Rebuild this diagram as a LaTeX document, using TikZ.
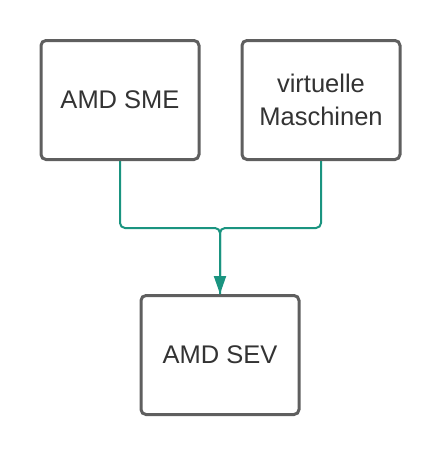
\documentclass[tikz,border=0pt]{standalone}
\usepackage{fontspec}
\setmainfont{Liberation Sans}
\usetikzlibrary{arrows.meta}
\usetikzlibrary{positioning}

\definecolor{boxgray}{HTML}{5F5F5F}
\definecolor{textgray}{HTML}{333333}
\definecolor{linkteal}{HTML}{1A9480}

\begin{document}
\begin{tikzpicture}[x=1pt,y=-1pt,node distance=40pt,
  box node/.style={draw=boxgray,line width=3pt,rounded corners=5pt,fill=white,
    minimum width=158pt,minimum height=119pt,align=center,text=textgray,
    font=\fontsize{25.5}{33}\selectfont},
  link/.style={draw=linkteal,line width=2pt,rounded corners=5pt}]

  \useasboundingbox (0,0) rectangle (440,455);

  \node[box node] (sme) at (120,100) {AMD SME};
  \node[box node] (vm) [right=of sme] {virtuelle\\Maschinen};
  \node[box node] (sev) at (220,355) {AMD SEV};
  \coordinate (join) at (220,228);

  \path[link] (sme.south) |- (join) -- (sev.north);
  \path[link,-{Triangle[length=18pt,width=12pt]}] (vm.south) |- (join) -- (sev.north);
\end{tikzpicture}
\end{document}
